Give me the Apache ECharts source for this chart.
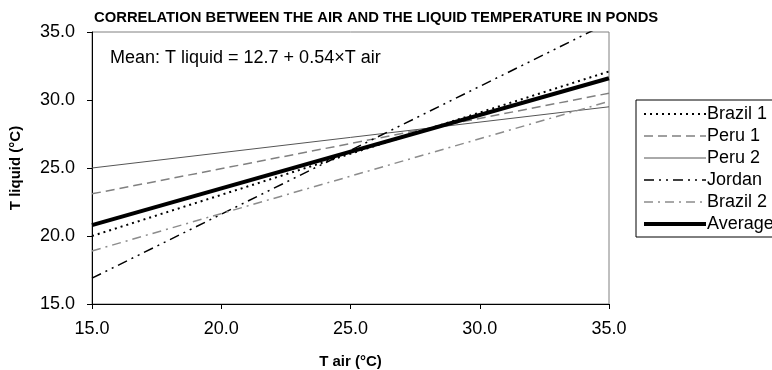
<!DOCTYPE html>
<html>
<head>
<meta charset="utf-8">
<script src="https://cdn.jsdelivr.net/npm/echarts@6/dist/echarts.min.js"></script>
<style>
  html, body { margin: 0; padding: 0; background: #fff; }
  #chart { width: 772px; height: 370px; }
</style>
</head>
<body>
<div id="chart"></div>
<script>
// air temperature at both ends of each fitted line
var airTemp = [15, 35];
// liquid temperature
var brazil1 = [20.0, 32.1];
var peru1 = [23.1, 30.5];
var peru2 = [25.0, 29.5];
var jordan = [16.9, 35.7];
var brazil2 = [18.9, 29.9];
var average = [20.8, 31.6];

var seriesNames = ['Brazil 1', 'Peru 1', 'Peru 2', 'Jordan', 'Brazil 2', 'Average'];

function pairs(vals) {
    return airTemp.map(function(x, i) { return [x, vals[i]]; });
}

var font = 'Liberation Sans, Arial, sans-serif';

function line(name, vals, color, width, type) {
    return {
        name: name,
        type: 'line',
        data: pairs(vals),
        symbol: 'none',
        color: color,
        lineStyle: { color: color, width: width, type: type },
        clip: true
    };
}

var chart = echarts.init(document.getElementById('chart'));
chart.setOption({
    animation: false,
    title: {
        text: 'CORRELATION BETWEEN THE AIR AND THE LIQUID TEMPERATURE IN PONDS',
        left: 89,
        top: 5,
        textStyle: { fontFamily: font, fontSize: 14.8, fontWeight: 'bold', color: '#000' }
    },
    grid: {
        left: 92,
        right: 163,
        top: 32,
        bottom: 66,
        outerBoundsMode: 'none',
        show: true,
        borderColor: '#808080',
        borderWidth: 1
    },
    legend: {
        data: seriesNames,
        orient: 'vertical',
        left: 636,
        top: 100,
        itemWidth: 62,
        itemHeight: 14,
        itemGap: 4,
        padding: [5, 14, 4, 6],
        borderColor: '#000',
        borderWidth: 1,
        backgroundColor: '#fff',
        itemStyle: { opacity: 0 },
        lineStyle: { width: 'inherit' },
        textStyle: { fontFamily: font, fontSize: 18, color: '#000', padding: [0, 0, 0, -4] }
    },
    graphic: [{
        type: 'text',
        left: 110,
        top: 49,
        style: {
            text: 'Mean: T liquid = 12.7 + 0.54\u00d7T air',
            font: '18px ' + font,
            fill: '#000'
        }
    }],
    xAxis: {
        type: 'value',
        min: 15,
        max: 35,
        interval: 5,
        name: 'T air (\u00b0C)',
        nameLocation: 'middle',
        nameGap: 50,
        nameTextStyle: { fontFamily: font, fontSize: 15, fontWeight: 'bold', color: '#000' },
        axisLine: { lineStyle: { color: '#000', width: 1 } },
        axisTick: { show: true, length: 5, lineStyle: { color: '#000' } },
        axisLabel: { fontFamily: font, fontSize: 18, color: '#000', margin: 16,
            formatter: function(v) { return v.toFixed(1); } },
        splitLine: { show: false }
    },
    yAxis: {
        type: 'value',
        min: 15,
        max: 35,
        interval: 5,
        name: 'T liquid (\u00b0C)',
        nameLocation: 'middle',
        nameGap: 69,
        nameTextStyle: { fontFamily: font, fontSize: 15, fontWeight: 'bold', color: '#000' },
        axisLine: { show: true, lineStyle: { color: '#000', width: 1 } },
        axisTick: { show: true, length: 5, lineStyle: { color: '#000' } },
        axisLabel: { fontFamily: font, fontSize: 18, color: '#000', margin: 17,
            formatter: function(v) { return v.toFixed(1); } },
        splitLine: { show: false }
    },
    series: [
        line('Brazil 1', brazil1, '#000', 2, [2, 4]),
        line('Peru 1', peru1, '#808080', 1.5, [9, 5]),
        line('Peru 2', peru2, '#555', 1, 'solid'),
        line('Jordan', jordan, '#000', 1.5, [10, 5, 2, 5, 2, 5]),
        line('Brazil 2', brazil2, '#8c8c8c', 1.5, [9, 5, 2, 5]),
        line('Average', average, '#000', 4, 'solid')
    ]
});
</script>
</body>
</html>
